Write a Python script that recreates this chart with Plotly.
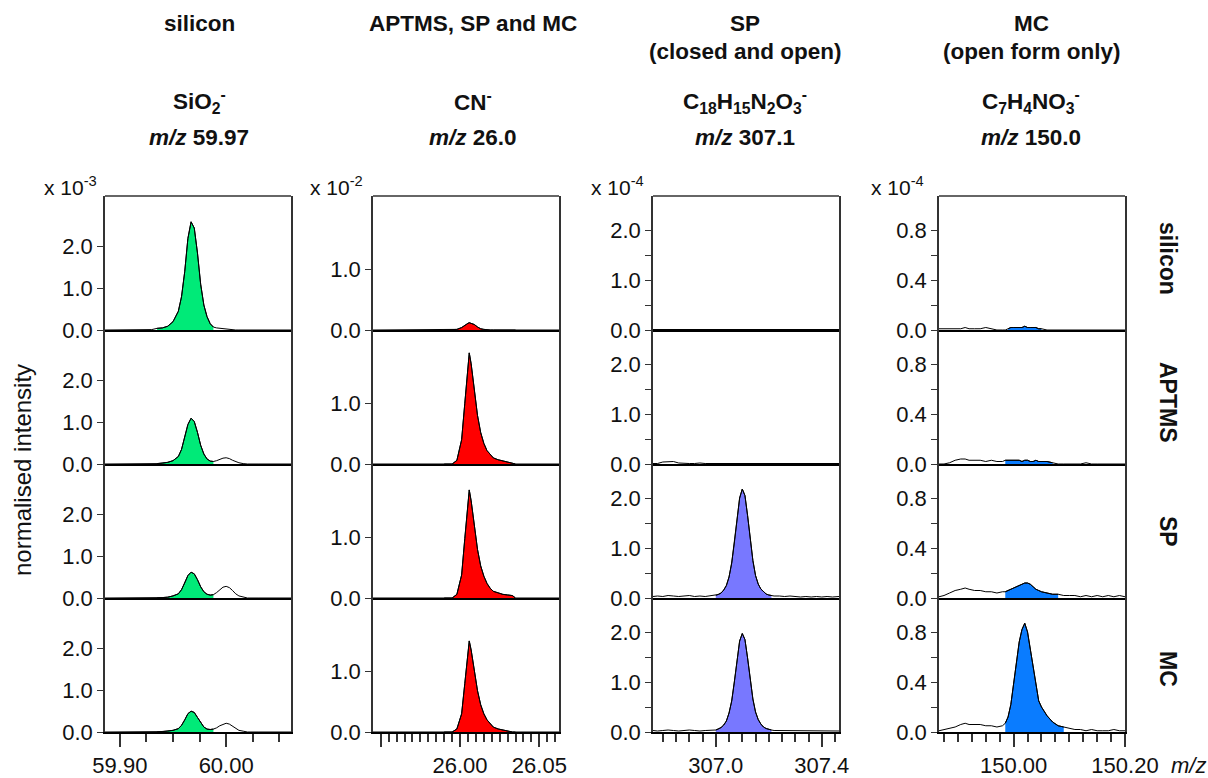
import plotly.graph_objects as go

# ---------------- data ----------------
col_headers = ["silicon", "APTMS, SP and MC", "SP", "MC"]
col_subheaders = ["", "", "(closed and open)", "(open form only)"]
formulas = ["SiO<sub>2</sub><sup>-</sup>", "CN<sup>-</sup>",
            "C<sub>18</sub>H<sub>15</sub>N<sub>2</sub>O<sub>3</sub><sup>-</sup>",
            "C<sub>7</sub>H<sub>4</sub>NO<sub>3</sub><sup>-</sup>"]
mz_values = ["59.97", "26.0", "307.1", "150.0"]
exponents = ["-3", "-2", "-4", "-4"]
row_labels = ["silicon", "APTMS", "SP", "MC"]
colors = ["#00EA78", "#FF0000", "#7878FF", "#0A7CFF"]

# column 1: SiO2- (x 1e-3)
mz_sio2 = [59.886, 59.92, 59.930, 59.935, 59.940, 59.945, 59.950, 59.955, 59.958, 59.961,
           59.964, 59.967, 59.970, 59.973, 59.976, 59.979, 59.982, 59.985, 59.988, 59.991,
           59.994, 59.997, 60.000, 60.003, 60.006, 60.009, 60.012, 60.016, 60.020, 60.030, 60.061]
sio2_silicon = [0, 0, 0.01, 0.04, 0.05, 0.09, 0.2, 0.45, 0.8, 1.4,
                2.2, 2.6, 2.45, 1.85, 1.1, 0.6, 0.32, 0.15, 0.07, 0.05,
                0.04, 0.04, 0.03, 0.02, 0.01, 0, 0, 0, 0, 0, 0]
sio2_aptms = [0, 0, 0, 0.01, 0.02, 0.04, 0.08, 0.18, 0.35, 0.62,
              0.95, 1.1, 1.02, 0.76, 0.45, 0.24, 0.12, 0.07, 0.06, 0.08,
              0.11, 0.14, 0.15, 0.13, 0.09, 0.05, 0.03, 0.01, 0, 0, 0]
sio2_sp = [0, 0, 0, 0, 0.01, 0.02, 0.05, 0.1, 0.2, 0.36,
           0.54, 0.62, 0.58, 0.44, 0.27, 0.15, 0.09, 0.07, 0.08, 0.13,
           0.2, 0.26, 0.28, 0.25, 0.18, 0.1, 0.05, 0.02, 0, 0, 0]
sio2_mc = [0, 0, 0, 0, 0.01, 0.02, 0.04, 0.08, 0.16, 0.29,
           0.44, 0.5, 0.47, 0.35, 0.22, 0.12, 0.07, 0.06, 0.07, 0.1,
           0.15, 0.19, 0.21, 0.19, 0.14, 0.08, 0.04, 0.02, 0, 0, 0]

# column 2: CN- (x 1e-2)
mz_cn = [25.9451, 25.990, 25.995, 25.998, 26.001, 26.003, 26.005, 26.0058, 26.007, 26.009,
         26.011, 26.013, 26.015, 26.017, 26.019, 26.021, 26.024, 26.027, 26.030, 26.033,
         26.035, 26.0624]
cn_silicon = [0, 0, 0, 0.01, 0.04, 0.08, 0.11, 0.12, 0.11, 0.09,
              0.05, 0.02, 0.01, 0, 0, 0, 0, 0, 0, 0, 0, 0]
cn_aptms = [0, 0, 0, 0.06, 0.4, 1.0, 1.7, 1.83, 1.65, 1.2,
            0.8, 0.52, 0.34, 0.22, 0.15, 0.1, 0.07, 0.05, 0.03, 0.02, 0, 0]
cn_sp = [0, 0, 0, 0.06, 0.38, 0.98, 1.65, 1.78, 1.6, 1.18,
         0.8, 0.53, 0.36, 0.24, 0.16, 0.11, 0.08, 0.06, 0.05, 0.04, 0, 0]
cn_mc = [0, 0, 0, 0.05, 0.3, 0.8, 1.38, 1.5, 1.35, 1.0,
         0.68, 0.45, 0.3, 0.2, 0.13, 0.08, 0.05, 0.03, 0.02, 0, 0, 0]

# column 3: C18H15N2O3- (x 1e-4)
mz_sp = [306.763, 306.78, 306.80, 306.82, 306.84, 306.86, 306.88, 306.90, 306.92, 306.94,
         306.96, 306.98, 307.00, 307.01, 307.02, 307.03, 307.04, 307.05, 307.06, 307.07,
         307.08, 307.09, 307.10, 307.11, 307.12, 307.13, 307.14, 307.15, 307.16, 307.17,
         307.18, 307.19, 307.20, 307.21, 307.22, 307.24, 307.26, 307.28, 307.30, 307.32,
         307.34, 307.36, 307.38, 307.40, 307.42, 307.44, 307.465]
sp_silicon = [0.01, 0.01, 0.02, 0.01, 0.01, 0.02, 0.01, 0.01, 0.02, 0.01,
              0.01, 0.02, 0.01, 0.01, 0.01, 0.02, 0.01, 0.01, 0.01, 0.01,
              0.02, 0.01, 0.01, 0.01, 0.02, 0.01, 0.01, 0.01, 0.01, 0.02,
              0.01, 0.01, 0.01, 0.01, 0.02, 0.01, 0.01, 0.01, 0.02, 0.01,
              0.01, 0.02, 0.01, 0.02, 0.01, 0.02, 0.01]
sp_aptms = [0.01, 0.01, 0.04, 0.05, 0.05, 0.02, 0.01, 0.01, 0.01, 0.02,
            0.01, 0.01, 0.01, 0.01, 0.01, 0.01, 0.01, 0.02, 0.01, 0.01,
            0.01, 0.01, 0.01, 0.01, 0.01, 0.01, 0.01, 0.01, 0.01, 0.01,
            0.01, 0.01, 0.01, 0.01, 0.01, 0.01, 0.01, 0.01, 0.01, 0.01,
            0.01, 0.02, 0.01, 0.01, 0.01, 0.01, 0.01]
sp_sp = [0.03, 0.04, 0.03, 0.05, 0.04, 0.03, 0.04, 0.05, 0.03, 0.04,
         0.03, 0.04, 0.05, 0.07, 0.1, 0.16, 0.25, 0.42, 0.7, 1.1,
         1.6, 2.0, 2.18, 2.05, 1.65, 1.15, 0.75, 0.45, 0.28, 0.18,
         0.12, 0.08, 0.06, 0.05, 0.04, 0.04, 0.03, 0.04, 0.03, 0.02,
         0.03, 0.02, 0.03, 0.02, 0.03, 0.02, 0.03]
sp_mc = [0.03, 0.02, 0.03, 0.04, 0.03, 0.02, 0.03, 0.04, 0.03, 0.02,
         0.03, 0.03, 0.04, 0.06, 0.09, 0.14, 0.22, 0.38, 0.62, 1.0,
         1.45, 1.82, 1.97, 1.85, 1.48, 1.02, 0.66, 0.4, 0.25, 0.16,
         0.1, 0.07, 0.05, 0.04, 0.03, 0.03, 0.02, 0.03, 0.03, 0.02,
         0.02, 0.03, 0.02, 0.02, 0.03, 0.02, 0.02]

# column 4: C7H4NO3- (x 1e-4)
mz_mc = [149.866, 149.875, 149.885, 149.895, 149.905, 149.913, 149.92, 149.93, 149.94, 149.95,
         149.96, 149.97, 149.98, 149.985, 149.99, 149.995, 150.0, 150.005, 150.01, 150.015,
         150.02, 150.025, 150.03, 150.035, 150.04, 150.045, 150.05, 150.06, 150.07, 150.08,
         150.09, 150.10, 150.11, 150.12, 150.13, 150.14, 150.15, 150.16, 150.17, 150.18,
         150.19, 150.20]
mc_silicon = [0.01, 0.01, 0.01, 0.01, 0.01, 0.02, 0.01, 0.01, 0.01, 0.02,
              0.01, 0, 0, 0, 0.01, 0.02, 0.02, 0.02, 0.02, 0.02,
              0.03, 0.02, 0.02, 0.02, 0.02, 0.01, 0.01, 0, 0, 0,
              0, 0, 0, 0, 0, 0, 0, 0, 0, 0, 0, 0]
mc_aptms = [0, 0, 0.01, 0.03, 0.04, 0.04, 0.03, 0.03, 0.03, 0.02,
            0.03, 0.02, 0.02, 0.03, 0.03, 0.03, 0.03, 0.03, 0.03, 0.02,
            0.03, 0.03, 0.02, 0.02, 0.03, 0.02, 0.02, 0.02, 0.01, 0,
            0, 0, 0, 0, 0.01, 0, 0, 0, 0, 0, 0, 0]
mc_sp = [0.01, 0.02, 0.04, 0.06, 0.07, 0.08, 0.07, 0.06, 0.06, 0.05,
         0.05, 0.04, 0.05, 0.05, 0.06, 0.07, 0.08, 0.09, 0.1, 0.11,
         0.12, 0.12, 0.11, 0.09, 0.07, 0.06, 0.05, 0.04, 0.03, 0.03,
         0.02, 0.02, 0.02, 0.01, 0.02, 0.01, 0.02, 0.01, 0.02, 0.01,
         0.02, 0.01]
mc_mc = [0.01, 0.02, 0.03, 0.04, 0.06, 0.07, 0.06, 0.06, 0.06, 0.05,
         0.05, 0.04, 0.05, 0.07, 0.12, 0.22, 0.38, 0.55, 0.72, 0.82,
         0.87, 0.8, 0.66, 0.5, 0.36, 0.25, 0.2, 0.13, 0.08, 0.05,
         0.04, 0.03, 0.02, 0.02, 0.01, 0.02, 0.01, 0.01, 0.01, 0.02,
         0.01, 0.01]

columns_x = [mz_sio2, mz_cn, mz_sp, mz_mc]
columns_y = [[sio2_silicon, sio2_aptms, sio2_sp, sio2_mc],
             [cn_silicon, cn_aptms, cn_sp, cn_mc],
             [sp_silicon, sp_aptms, sp_sp, sp_mc],
             [mc_silicon, mc_aptms, mc_sp, mc_mc]]
# integration windows (shaded)
fill_windows = [[(59.935, 59.988)] * 4,
                [(25.99, 26.04)] * 4,
                [(307.0, 307.21)] * 4,
                [(149.99, 150.055), (149.984, 150.07), (149.984, 150.085), (149.984, 150.093)]]

# axes
x_ranges = [[59.886, 60.061], [25.9451, 26.0624], [306.763, 307.465], [149.866, 150.2]]
x_major = [[59.90, 60.00], [25.95, 26.00, 26.05], [307.0, 307.4], [150.00, 150.20]]
x_major_text = [["59.90", "60.00"], ["", "26.00", "26.05"], ["307.0", "307.4"], ["150.00", "150.20"]]
x_minor = [[59.925, 59.95, 59.975, 60.025, 60.05],
           [25.955, 25.96, 25.965, 25.97, 25.975, 25.98, 25.985, 25.99, 25.995, 26.005,
            26.01, 26.015, 26.02, 26.025, 26.03, 26.035, 26.04, 26.045, 26.055, 26.06],
           [306.8, 306.85, 306.9, 306.95, 307.05, 307.1, 307.15, 307.2, 307.25, 307.3, 307.35, 307.45],
           [149.875, 149.9, 149.925, 149.95, 149.975, 150.025, 150.05, 150.075, 150.1, 150.125,
            150.15, 150.175]]
y_ranges = [[0, 3.22], [0, 2.207], [0, 2.68], [0, 1.072]]
y_major = [[0, 1, 2], [0, 1], [0, 1, 2], [0, 0.4, 0.8]]
y_major_text = [["0.0", "1.0", "2.0"], ["0.0", "1.0"], ["0.0", "1.0", "2.0"], ["0.0", "0.4", "0.8"]]
y_minor = [[], [], [0.5, 1.5], [0.2, 0.6]]

# ---------------- layout geometry (pixels) ----------------
W, H = 1208, 778
col_px = [(105, 291), (373, 559), (653, 839), (939, 1125)]
row_px = [(196, 330), (330, 464), (464, 598), (598, 732)]
FONT = "Liberation Sans, Arial, sans-serif"
TXT = "#111"


def px_x(p):
    return p / W


def px_y(p):
    return 1 - p / H


def note(text, x, y, size=22, xanchor="center", angle=0):
    return dict(text=text, x=px_x(x), y=px_y(y), xref="paper", yref="paper",
                showarrow=False, xanchor=xanchor, yanchor="middle", textangle=angle,
                font=dict(size=size, family=FONT, color=TXT))


fig = go.Figure()
layout = dict(width=W, height=H, margin=dict(l=0, r=0, t=0, b=0, autoexpand=False),
              paper_bgcolor="white", plot_bgcolor="white", showlegend=False,
              font=dict(family=FONT, size=22, color=TXT))
shapes = []
annotations = []

for c in range(4):
    xs_all = columns_x[c]
    for r in range(4):
        idx = c * 4 + r + 1
        xa = "x" if idx == 1 else f"x{idx}"
        ya = "y" if idx == 1 else f"y{idx}"
        ys_all = columns_y[c][r]
        lo, hi = fill_windows[c][r]
        fx = [x for x in xs_all if lo <= x <= hi]
        fy = [y for x, y in zip(xs_all, ys_all) if lo <= x <= hi]
        fig.add_trace(go.Scatter(x=fx, y=fy, mode="lines", fill="tozeroy",
                                 fillcolor=colors[c], line=dict(color="black", width=1),
                                 xaxis=xa, yaxis=ya, hoverinfo="skip"))
        fig.add_trace(go.Scatter(x=xs_all, y=ys_all, mode="lines",
                                 line=dict(color="black", width=1),
                                 xaxis=xa, yaxis=ya, hoverinfo="skip"))
        x0, x1 = col_px[c]
        y0, y1 = row_px[r]
        xkey = "xaxis" if idx == 1 else f"xaxis{idx}"
        ykey = "yaxis" if idx == 1 else f"yaxis{idx}"
        xax = dict(domain=[px_x(x0), px_x(x1)], range=x_ranges[c], anchor=ya,
                   showline=True, linecolor="black", linewidth=2, mirror=False,
                   showgrid=False, zeroline=False, fixedrange=True, automargin=False)
        if r == 3:
            xax.update(tickmode="array", tickvals=x_major[c], ticktext=x_major_text[c],
                       ticks="outside", ticklen=13, tickwidth=1.5, tickcolor="#333",
                       tickfont=dict(size=22, family=FONT, color=TXT),
                       minor=dict(tickmode="array", tickvals=x_minor[c], ticks="outside",
                                  ticklen=8, tickwidth=1.5, tickcolor="#333"))
        else:
            xax.update(showticklabels=False, ticks="")
        yax = dict(domain=[px_y(y1), px_y(y0)], range=y_ranges[c], anchor=xa,
                   showline=True, linecolor="#333", linewidth=1.5, mirror=True,
                   showgrid=False, zeroline=False, fixedrange=True, automargin=False,
                   tickmode="array", tickvals=y_major[c], ticktext=y_major_text[c],
                   ticks="outside", ticklen=6, tickwidth=1.2, tickcolor="#333",
                   tickfont=dict(size=22, family=FONT, color=TXT))
        if y_minor[c]:
            yax["minor"] = dict(tickmode="array", tickvals=y_minor[c], ticks="outside",
                                ticklen=6, tickwidth=1.2, tickcolor="#333")
        layout[xkey] = xax
        layout[ykey] = yax
    # top border of first row
    x0, x1 = col_px[c]
    shapes.append(dict(type="line", xref="paper", yref="paper",
                       x0=px_x(x0), x1=px_x(x1), y0=px_y(196), y1=px_y(196),
                       line=dict(color="#333", width=1.5)))

# column headers
col_centers = [199, 473, 745, 1031]
for c in range(4):
    cx = col_centers[c]
    annotations.append(note(f"<b>{col_headers[c]}</b>", cx, 24, size=22.5))
    if col_subheaders[c]:
        annotations.append(note(f"<b>{col_subheaders[c]}</b>", cx, 52, size=22.5))
    annotations.append(note(f"<b>{formulas[c]}</b>", cx, 101, size=22.5))
    annotations.append(note(f"<b><i>m/z</i> {mz_values[c]}</b>", cx, 137, size=22.5))

# exponent labels
exp_left = [42, 308, 589, 869]
for c in range(4):
    annotations.append(note(f"x 10<sup>{exponents[c]}</sup>", exp_left[c], 186,
                            size=21, xanchor="left"))

# row labels
row_centers = [258, 402, 531, 669]
for r in range(4):
    annotations.append(note(f"<b>{row_labels[r]}</b>", 1168, row_centers[r], size=23, angle=90))

# axis titles
annotations.append(note("normalised intensity", 22, 470, size=24, angle=-90))
annotations.append(note("<i>m/z</i>", 1188, 765))

layout["shapes"] = shapes
layout["annotations"] = annotations
fig.update_layout(**layout)
fig.write_html("out.html")
